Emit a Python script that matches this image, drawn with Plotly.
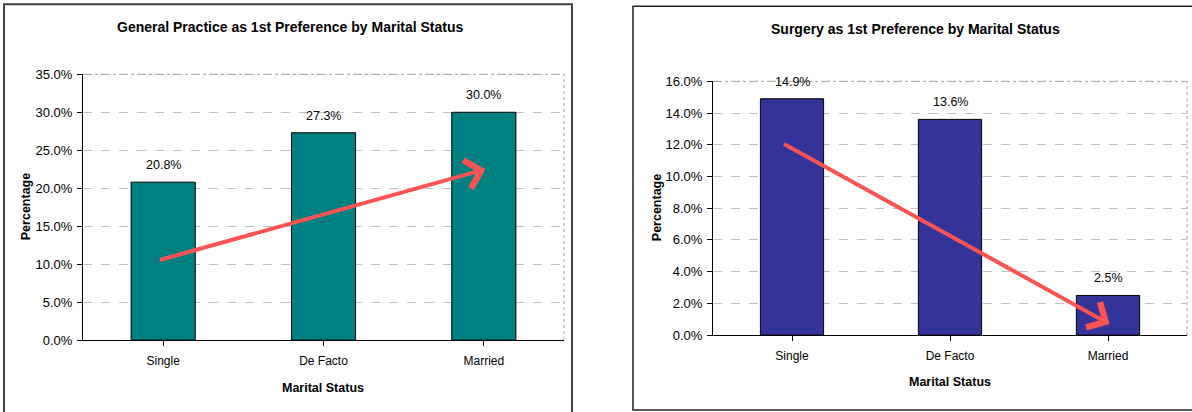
import plotly.graph_objects as go

# ---- data ----
categories = ["Single", "De Facto", "Married"]
gp_values = [20.8, 27.3, 30.0]
surgery_values = [14.9, 13.6, 2.5]
gp_labels = ["20.8%", "27.3%", "30.0%"]
surgery_labels = ["14.9%", "13.6%", "2.5%"]
gp_yticks = [0, 5, 10, 15, 20, 25, 30, 35]
gp_yticklabels = ["0.0%", "5.0%", "10.0%", "15.0%", "20.0%", "25.0%", "30.0%", "35.0%"]
surgery_yticks = [0, 2, 4, 6, 8, 10, 12, 14, 16]
surgery_yticklabels = ["0.0%", "2.0%", "4.0%", "6.0%", "8.0%", "10.0%", "12.0%", "14.0%", "16.0%"]
# trend arrows: (x index, y value) start -> end
gp_arrow_start = [-0.03, 10.5]
gp_arrow_end = [2.01, 22.5]
surgery_arrow_start = [-0.06, 12.1]
surgery_arrow_end = [2.01, 0.7]

W, H = 1192, 412
FONT = "Liberation Sans, Arial, sans-serif"
TEAL = "#008080"
NAVY = "#333399"
ARROW = "#ff5252"


def px(x):
    return x / W


def py(y):
    # map a target screen row to paper coordinates (observed vertical fit of the viewer)
    t = (y - 6.64) / 0.9643
    return 1 - t / H


fig = go.Figure()

fig.add_trace(go.Bar(x=[0, 1, 2], y=gp_values, width=0.4, marker=dict(color=TEAL, line=dict(color="black", width=1)),
                     xaxis="x", yaxis="y", showlegend=False, hoverinfo="skip"))
fig.add_trace(go.Bar(x=[0, 1, 2], y=surgery_values, width=0.4, marker=dict(color=NAVY, line=dict(color="black", width=1)),
                     xaxis="x2", yaxis="y2", showlegend=False, hoverinfo="skip"))

xtickfont = dict(family=FONT, size=12, color="black")
ytickfont = dict(family=FONT, size=13, color="black")
labelfont = dict(family=FONT, size=12.5, color="black")
axtitlefont = dict(family=FONT, size=12.5, color="black", weight="bold")
titlefont = dict(family=FONT, size=14, color="black", weight="bold")

common_x = dict(range=[-0.5, 2.5], tickmode="array", tickvals=[0, 1, 2], ticktext=categories,
                showline=True, linecolor="black", linewidth=1, ticks="outside", ticklen=5, tickcolor="black",
                tickson="boundaries", showgrid=False, zeroline=False, tickfont=xtickfont, fixedrange=True,
                ticklabelstandoff=4)
common_y = dict(showline=True, linecolor="black", linewidth=1, ticks="outside", ticklen=5, tickcolor="black",
                showgrid=True, gridcolor="#c0c0c0", griddash="dash", gridwidth=1, zeroline=False,
                tickfont=ytickfont, tickmode="array", fixedrange=True, ticklabelstandoff=2)

fig.update_layout(
    width=W, height=H, margin=dict(l=0, r=0, t=0, b=0),
    paper_bgcolor="white", plot_bgcolor="white", bargap=0.6,
    xaxis=dict(domain=[px(83), px(564)], anchor="y", **common_x),
    yaxis=dict(domain=[py(340), py(74)], anchor="x", range=[0, 35], tickvals=gp_yticks,
               ticktext=gp_yticklabels, **common_y),
    xaxis2=dict(domain=[px(713), px(1187)], anchor="y2", **common_x),
    yaxis2=dict(domain=[py(335), py(81)], anchor="x2", range=[0, 16], tickvals=surgery_yticks,
                ticktext=surgery_yticklabels, **common_y),
)

annotations = []
# data labels
for i, (v, t) in enumerate(zip(gp_values, gp_labels)):
    annotations.append(dict(x=i, y=v, xref="x", yref="y", text=t, showarrow=False, yanchor="bottom",
                            yshift=8, font=labelfont))
for i, (v, t) in enumerate(zip(surgery_values, surgery_labels)):
    annotations.append(dict(x=i, y=v, xref="x2", yref="y2", text=t, showarrow=False, yanchor="bottom",
                            yshift=8, font=labelfont))

# titles
annotations += [
    dict(x=px(290), y=py(27), xref="paper", yref="paper", text="General Practice as 1st Preference by Marital Status",
         showarrow=False, font=titlefont, xanchor="center", yanchor="middle"),
    dict(x=px(916), y=py(29), xref="paper", yref="paper", text="Surgery as 1st Preference by Marital Status",
         showarrow=False, font=titlefont, xanchor="center", yanchor="middle"),
    dict(x=px(323), y=py(388), xref="paper", yref="paper", text="Marital Status",
         showarrow=False, font=axtitlefont, xanchor="center", yanchor="middle"),
    dict(x=px(950), y=py(382), xref="paper", yref="paper", text="Marital Status",
         showarrow=False, font=axtitlefont, xanchor="center", yanchor="middle"),
    dict(x=px(26), y=py(207), xref="paper", yref="paper", text="Percentage", textangle=-90,
         showarrow=False, font=axtitlefont, xanchor="center", yanchor="middle"),
    dict(x=px(657), y=py(208), xref="paper", yref="paper", text="Percentage", textangle=-90,
         showarrow=False, font=axtitlefont, xanchor="center", yanchor="middle"),
]

# arrows
annotations.append(dict(x=gp_arrow_end[0], y=gp_arrow_end[1], ax=gp_arrow_start[0], ay=gp_arrow_start[1],
                        xref="x", yref="y", axref="x", ayref="y", text="", showarrow=True,
                        arrowhead=4, arrowsize=1.4, arrowwidth=4, arrowcolor=ARROW))
annotations.append(dict(x=surgery_arrow_end[0], y=surgery_arrow_end[1], ax=surgery_arrow_start[0],
                        ay=surgery_arrow_start[1], xref="x2", yref="y2", axref="x2", ayref="y2", text="",
                        showarrow=True, arrowhead=4, arrowsize=1.4, arrowwidth=4, arrowcolor=ARROW))
fig.update_layout(annotations=annotations)

shapes = [
    # panel borders
    dict(type="rect", xref="paper", yref="paper", x0=px(4), x1=px(572), y0=-0.05, y1=py(4),
         line=dict(color="#404040", width=2), fillcolor="rgba(0,0,0,0)", layer="below"),
    dict(type="rect", xref="paper", yref="paper", x0=px(633), x1=1.05, y0=py(410), y1=py(6),
         line=dict(color="#202020", width=1.5), fillcolor="rgba(0,0,0,0)", layer="below"),
]
for xa, ya in (("x", "y"), ("x2", "y2")):
    shapes.append(dict(type="line", xref=f"{xa} domain", yref=f"{ya} domain", x0=1, x1=1, y0=0, y1=1,
                       line=dict(color="#a0a0a0", width=1, dash="dot"), layer="below"))
    shapes.append(dict(type="line", xref=f"{xa} domain", yref=f"{ya} domain", x0=0, x1=1, y0=1, y1=1,
                       line=dict(color="#a0a0a0", width=1, dash="dashdot"), layer="below"))
fig.update_layout(shapes=shapes)

fig.write_html("out.html")
